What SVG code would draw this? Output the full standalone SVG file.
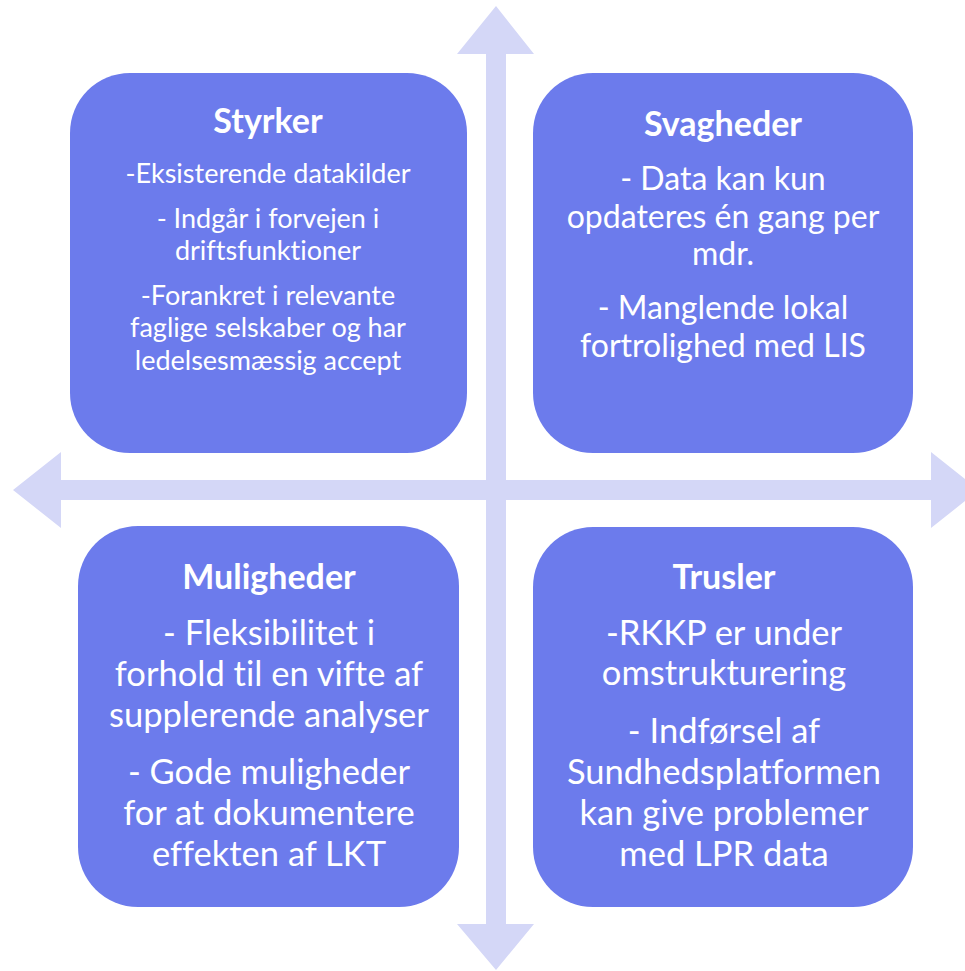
<svg xmlns="http://www.w3.org/2000/svg" width="965" height="971" viewBox="0 0 965 971">
<style>
.box{fill:#6C7BEC}
.axis{fill:#D4D7F7}
text{fill:#FFFFFF;font-family:Lato,"Liberation Sans",sans-serif;text-anchor:middle;font-variant-ligatures:none}
.t{font-weight:bold;font-size:34px}
.s{font-size:27px}
.m{font-size:32px}
.l{font-size:34.5px}
</style>
<rect width="965" height="971" fill="#FFFFFF"/>
<g id="connectors">
<polygon class="axis" points="496,6 534,54 506,54 506,924 534,924 496,970 457,924 486,924 486,54 457,54"/>
<polygon class="axis" points="13,490 61,452 61,480 931,480 931,452 979,490 931,528 931,500 61,500 61,528"/>
</g>
<g id="styrker">
<rect class="box" x="70" y="73" width="397" height="380" rx="60"/>
<text class="t" x="268" y="133">Styrker</text>
<text class="s" x="268" y="183">-Eksisterende datakilder</text>
<text class="s" x="268" y="228">- Indgår i forvejen i</text>
<text class="s" x="268" y="260">driftsfunktioner</text>
<text class="s" x="268" y="305">-Forankret i relevante</text>
<text class="s" x="268" y="337">faglige selskaber og har</text>
<text class="s" x="268" y="370">ledelsesmæssig accept</text>
</g>
<g id="svagheder">
<rect class="box" x="533" y="73" width="380" height="380" rx="60"/>
<text class="t" x="723" y="136">Svagheder</text>
<text class="m" x="723" y="190">- Data kan kun</text>
<text class="m" x="723" y="228">opdateres én gang per</text>
<text class="m" x="723" y="265">mdr.</text>
<text class="m" x="723" y="319">- Manglende lokal</text>
<text class="m" x="723" y="357">fortrolighed med LIS</text>
</g>
<g id="muligheder">
<rect class="box" x="78" y="526" width="381" height="381" rx="60"/>
<text class="t" x="269" y="589">Muligheder</text>
<text class="l" x="269" y="645">- Fleksibilitet i</text>
<text class="l" x="269" y="686">forhold til en vifte af</text>
<text class="l" x="269" y="727">supplerende analyser</text>
<text class="l" x="269" y="784">- Gode muligheder</text>
<text class="l" x="269" y="825">for at dokumentere</text>
<text class="l" x="269" y="866">effekten af LKT</text>
</g>
<g id="trusler">
<rect class="box" x="533" y="527" width="380" height="380" rx="60"/>
<text class="t" x="724" y="589">Trusler</text>
<text class="l" x="724" y="645">-RKKP er under</text>
<text class="l" x="724" y="685">omstrukturering</text>
<text class="l" x="724" y="743">- Indførsel af</text>
<text class="l" x="724" y="784">Sundhedsplatformen</text>
<text class="l" x="724" y="825">kan give problemer</text>
<text class="l" x="724" y="866">med LPR data</text>
</g>
</svg>
